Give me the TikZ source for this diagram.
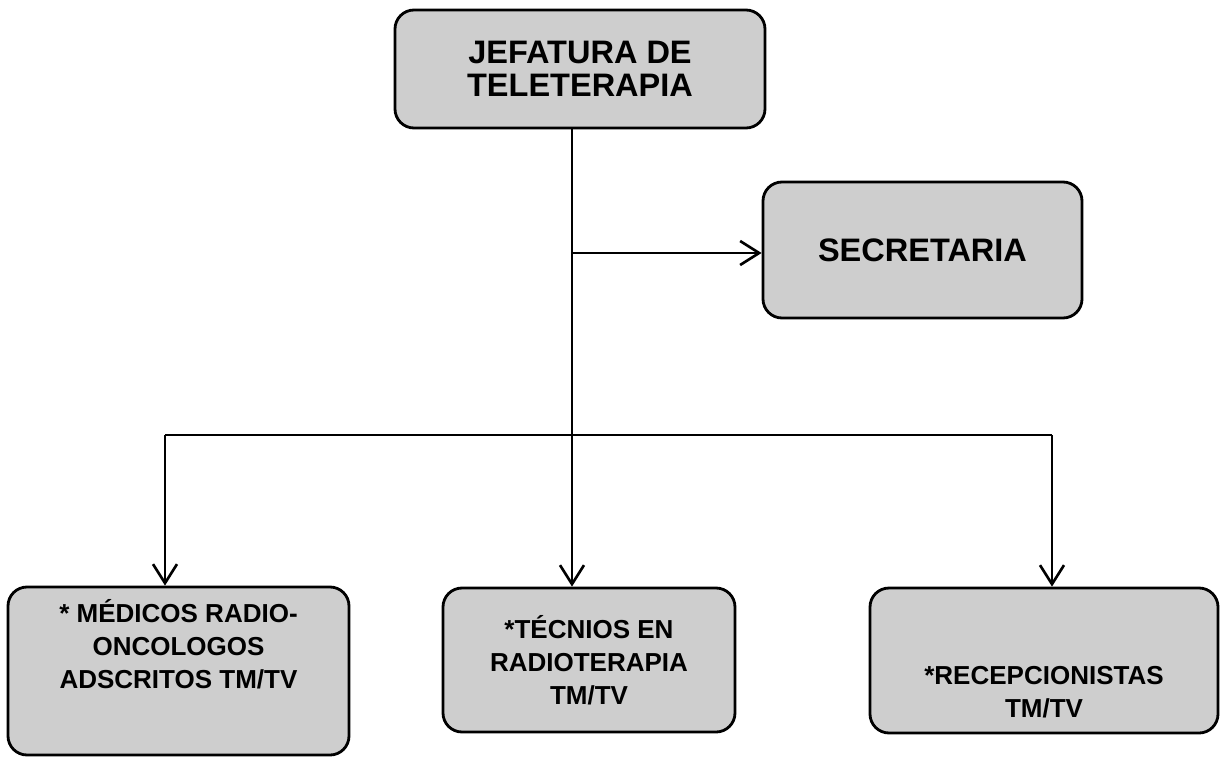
\documentclass[tikz,border=0pt]{standalone}
\usepackage{fontspec}
\setmainfont{Liberation Sans}
\usetikzlibrary{arrows.meta}
\definecolor{boxgrey}{RGB}{206,206,206}
\tikzset{
  base/.style={font=\bfseries\fontsize{18.5}{19}\selectfont, align=center, inner sep=2pt, text=black},
  box/.style={base, rectangle, rounded corners=0.38cm, draw=black, fill=boxgrey, line width=1.6pt},
  subbox/.style={box, font=\bfseries\fontsize{14.8}{18.8}\selectfont},
  arr/.style={-{Straight Barb[length=3.8mm,width=4.8mm,line width=1.5pt]}, line width=1.4pt, draw=black},
  ln/.style={line width=1.4pt, draw=black},
}
\newcommand{\shifted}[2]{\raisebox{#1}[0pt][0pt]{\begin{tabular}{@{}c@{}}#2\end{tabular}}}

\begin{document}
\begin{tikzpicture}
  \useasboundingbox (0,0) rectangle (24.42,-15.12);
  \node[box,minimum width=7.4cm,minimum height=2.36cm] (jefe) at (11.6,-1.38) {JEFATURA DE\\TELETERAPIA};
  \node[box,minimum width=6.38cm,minimum height=2.72cm] (secr) at (18.45,-5.0) {SECRETARIA};
  \node[subbox,minimum width=6.82cm,minimum height=3.36cm] (medicos) at (3.57,-13.42) {\shifted{0.32cm}{* MÉDICOS RADIO-\\ONCOLOGOS\\ADSCRITOS TM/TV}};
  \node[subbox,minimum width=5.84cm,minimum height=2.88cm] (tecnicos) at (11.78,-13.2) {*TÉCNIOS EN\\RADIOTERAPIA\\TM/TV};
  \node[subbox,minimum width=6.96cm,minimum height=2.9cm] (recep) at (20.88,-13.21) {\shifted{-0.8cm}{*RECEPCIONISTAS\\TM/TV}};
  % trunk and branches
  \coordinate (split) at (11.44,-5.06);
  \coordinate (busL) at (3.3,-8.7);
  \coordinate (busR) at (21.04,-8.7);
  \draw[arr] (jefe.south -| split) -- (tecnicos.north -| split);
  \draw[arr] (split) -- (secr.west |- split);
  \draw[ln] (busL) -- (busR);
  \draw[arr] (busL) -- (medicos.north -| busL);
  \draw[arr] (busR) -- (recep.north -| busR);
\end{tikzpicture}
\end{document}
